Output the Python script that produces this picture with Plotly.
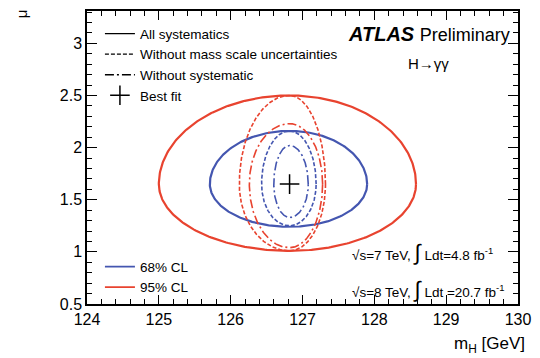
import numpy as np
import plotly.graph_objects as go

# ---------------- data ----------------
best_fit_mh = [126.82]
best_fit_mu = [1.65]

# contour extents: mH low/high, mu low/high
contour_cl = ["68% CL", "68% CL", "68% CL", "95% CL", "95% CL", "95% CL"]
contour_kind = ["All systematics", "Without mass scale uncertainties", "Without systematic",
                "All systematics", "Without mass scale uncertainties", "Without systematic"]
contour_mh_lo = [125.71, 126.43, 126.60, 125.00, 126.12, 126.26]
contour_mh_hi = [127.90, 127.19, 127.08, 128.58, 127.32, 127.28]
contour_mu_lo = [1.24, 1.25, 1.33, 1.01, 1.01, 1.04]
contour_mu_hi = [2.16, 2.16, 2.02, 2.50, 2.50, 2.23]

x_ticks = [124, 125, 126, 127, 128, 129, 130]
y_ticks = [0.5, 1, 1.5, 2, 2.5, 3]
x_range = [124, 130]
y_range = [0.5, 3.31]

# ---------------- styles ----------------
FONT = "Liberation Sans, Arial, Helvetica, sans-serif"
cl_color = {"68% CL": "#4456b0", "95% CL": "#e8432f"}
kind_dash = {"All systematics": "solid",
             "Without mass scale uncertainties": "4px,2px",
             "Without systematic": "9px,3px,2px,3px"}
kind_width = {"All systematics": 2.2,
              "Without mass scale uncertainties": 1.6,
              "Without systematic": 1.6}

fig = go.Figure()

t = np.linspace(0, 2 * np.pi, 361)
cx, cy = best_fit_mh[0], best_fit_mu[0]
for cl, kind, xl, xh, yl, yh in zip(contour_cl, contour_kind, contour_mh_lo,
                                    contour_mh_hi, contour_mu_lo, contour_mu_hi):
    c, s = np.cos(t), np.sin(t)
    xs = cx + np.where(c >= 0, (xh - cx), (cx - xl)) * c
    ys = cy + np.where(s >= 0, (yh - cy), (cy - yl)) * s
    fig.add_trace(go.Scatter(x=xs, y=ys, mode="lines", showlegend=False,
                             line=dict(color=cl_color[cl], width=kind_width[kind],
                                       dash=kind_dash[kind]),
                             hoverinfo="skip"))

# legend 1 (line styles)
for kind in ["All systematics", "Without mass scale uncertainties", "Without systematic"]:
    fig.add_trace(go.Scatter(x=[None], y=[None], mode="lines", name=kind,
                             line=dict(color="black", width=1.4, dash=kind_dash[kind]),
                             legend="legend"))
fig.add_trace(go.Scatter(x=best_fit_mh, y=best_fit_mu, mode="markers", name="Best fit",
                         marker=dict(symbol="cross-thin", size=14,
                                     line=dict(color="black", width=1.5)),
                         legend="legend"))

# legend 2 (CL colours)
for cl in ["68% CL", "95% CL"]:
    fig.add_trace(go.Scatter(x=[None], y=[None], mode="lines", name=cl,
                             line=dict(color=cl_color[cl], width=1.8),
                             legend="legend2"))

axis_common = dict(showline=True, linecolor="black", linewidth=1.5, mirror="ticks",
                   ticks="inside", tickcolor="black", tickwidth=1.2,
                   showgrid=False, zeroline=False,
                   tickfont=dict(family=FONT, size=16, color="black"))

fig.update_layout(
    width=540, height=358,
    margin=dict(l=87, r=14, t=9, b=54),
    paper_bgcolor="white", plot_bgcolor="white",
    font=dict(family=FONT, color="black"),
    xaxis=dict(range=x_range, tickvals=x_ticks, ticklen=9,
               minor=dict(ticks="inside", dtick=0.2, ticklen=5, tickcolor="black", tickwidth=1),
               **axis_common),
    yaxis=dict(range=y_range, tickvals=y_ticks, ticklen=10,
               ticktext=[str(v) for v in y_ticks],
               minor=dict(ticks="inside", dtick=0.1, ticklen=5, tickcolor="black", tickwidth=1),
               **axis_common),
    legend=dict(x=0.03, y=0.975, xanchor="left", yanchor="top",
                bgcolor="rgba(0,0,0,0)", font=dict(family=FONT, size=13.5, color="black"),
                tracegroupgap=0, itemwidth=30),
    legend2=dict(x=0.03, y=0.18, xanchor="left", yanchor="top",
                 bgcolor="rgba(0,0,0,0)", font=dict(family=FONT, size=13.5, color="black"),
                 tracegroupgap=0, itemwidth=30),
    showlegend=True,
)

annotations = [
    dict(text="<b><i>ATLAS</i></b> <span style='font-size:18px'>Preliminary</span>",
         x=0.985, y=0.922, xref="paper", yref="paper", xanchor="right", yanchor="middle",
         showarrow=False, font=dict(family=FONT, size=20, color="black")),
    dict(text="H→γγ", x=0.74, y=0.82, xref="paper", yref="paper", xanchor="left",
         yanchor="middle", showarrow=False, font=dict(family=FONT, size=15, color="black")),
    dict(text="√s=7 TeV, <span style='font-size:22px'>∫</span> Ldt=4.8 fb<sup>-1</sup>",
         x=0.61, y=0.176, xref="paper", yref="paper", xanchor="left", yanchor="middle",
         showarrow=False, font=dict(family=FONT, size=13.5, color="black")),
    dict(text="√s=8 TeV, <span style='font-size:22px'>∫</span> Ldt =20.7 fb<sup>-1</sup>",
         x=0.61, y=0.048, xref="paper", yref="paper", xanchor="left", yanchor="middle",
         showarrow=False, font=dict(family=FONT, size=13.5, color="black")),
    dict(text="m<sub>H</sub> [GeV]", x=1.022, y=-0.139, xref="paper", yref="paper",
         xanchor="right", yanchor="middle", showarrow=False,
         font=dict(family=FONT, size=17, color="black")),
    dict(text="μ", x=-0.15, y=0.99, xref="paper", yref="paper", xanchor="center",
         yanchor="middle", textangle=-90, showarrow=False,
         font=dict(family=FONT, size=15, color="black")),
]
fig.update_layout(annotations=annotations)

fig.write_html("out.html")
